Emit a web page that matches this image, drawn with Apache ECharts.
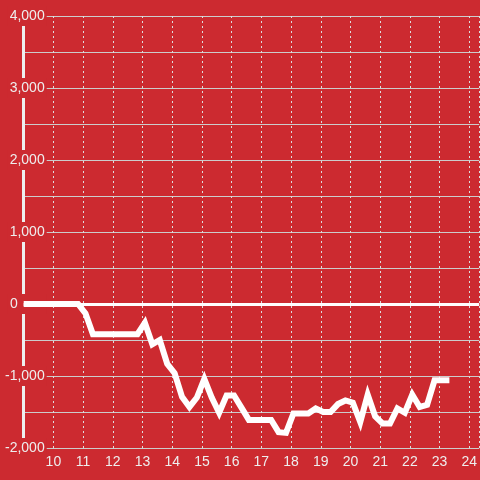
<!DOCTYPE html>
<html>
<head>
<meta charset="utf-8">
<script src="https://cdn.jsdelivr.net/npm/echarts@6/dist/echarts.min.js"></script>
<style>html,body{margin:0;padding:0;background:#cc2a30;}#c{width:480px;height:480px;}</style>
</head>
<body>
<div id="c"></div>
<script>
const hours = [9.0, 10.83, 11.08, 11.33, 11.58, 11.83, 12.08, 12.33, 12.58, 12.83, 13.08, 13.33, 13.58, 13.83, 14.08, 14.33, 14.58, 14.83, 15.08, 15.33, 15.58, 15.83, 16.08, 16.33, 16.58, 16.83, 17.08, 17.33, 17.58, 17.83, 18.08, 18.33, 18.58, 18.83, 19.08, 19.33, 19.58, 19.83, 20.08, 20.33, 20.58, 20.83, 21.08, 21.33, 21.58, 21.83, 22.08, 22.33, 22.58, 22.83, 23.08, 23.33];
const values = [0, 0, -130, -420, -420, -420, -420, -420, -420, -420, -260, -560, -500, -830, -960, -1290, -1430, -1300, -1040, -1300, -1510, -1270, -1270, -1440, -1610, -1610, -1610, -1610, -1780, -1790, -1520, -1520, -1520, -1450, -1500, -1500, -1390, -1340, -1370, -1640, -1260, -1560, -1660, -1660, -1450, -1510, -1260, -1430, -1400, -1060, -1060, -1060];
const xTicks = [10, 11, 12, 13, 14, 15, 16, 17, 18, 19, 20, 21, 22, 23, 24];
const yTicks = [-2000, -1000, 0, 1000, 2000, 3000, 4000];

const bg = '#cc2a30';
const chart = echarts.init(document.getElementById('c'));
const data = hours.map((h, i) => [h, values[i]]);
const fmt = v => v.toLocaleString('en-US');
chart.setOption({
  backgroundColor: bg,
  animation: false,
  textStyle: { fontFamily: 'Liberation Sans' },
  grid: { left: 20, right: 0, top: 16, bottom: 32, containLabel: false },
  xAxis: {
    type: 'value', min: 9, max: 24 + 1/3, interval: 1,
    axisLine: { show: false }, axisTick: { show: false },
    axisLabel: {
      color: '#eee', fontSize: 14, margin: 7,
      showMinLabel: false, showMaxLabel: false,
      formatter: v => xTicks.includes(v) ? String(v) : ''
    },
    splitLine: { show: true, lineStyle: { color: '#ddd', type: [2, 3], width: 1 } }
  },
  yAxis: {
    type: 'value', min: -2000, max: 4000, interval: 1000,
    axisLine: { show: true, onZero: false, lineStyle: { color: '#eee', width: 3 } },
    axisTick: { show: false },
    minorTick: { show: false, splitNumber: 2 },
    minorSplitLine: { show: true, lineStyle: { color: '#ccc', width: 1 } },
    splitLine: { show: true, lineStyle: { color: '#ccc', width: 1 } },
    axisLabel: {
      inside: true, margin: 23, align: 'right',
      color: '#eee', fontSize: 14,
      backgroundColor: bg, padding: [3, 2, 3, 2],
      formatter: v => yTicks.includes(v) ? (v === 0 ? '{z|0}' : fmt(v)) : '',
      rich: { z: { color: '#eee', fontSize: 14, padding: [0, 27, 0, 0] } }
    }
  },
  series: [{
    type: 'line',
    data: data,
    showSymbol: false,
    symbol: 'none',
    lineStyle: { color: '#fff', width: 6, cap: 'butt', join: 'miter' },
    markLine: {
      silent: true, symbol: 'none', animation: false,
      label: { show: false },
      lineStyle: { color: '#fff', width: 3, type: 'solid' },
      data: [{ yAxis: 0 }]
    }
  }]
});
</script>
</body>
</html>
